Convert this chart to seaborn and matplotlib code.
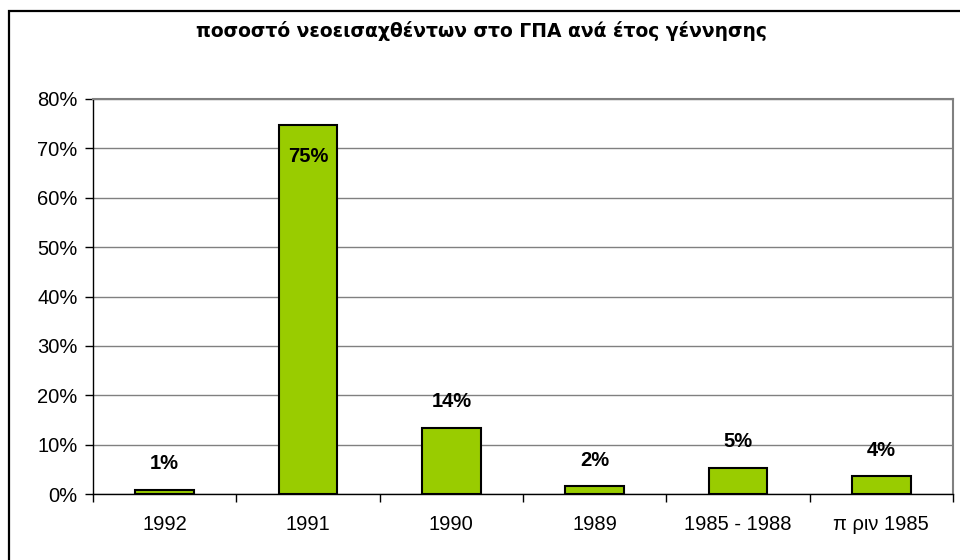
import matplotlib
matplotlib.use("Agg")
import matplotlib.pyplot as plt
import seaborn as sns
import pandas as pd
from matplotlib.patches import Rectangle
from matplotlib.ticker import FuncFormatter, FixedLocator

# -----------------------------
# DATA
# -----------------------------
categories = ["1992", "1991", "1990", "1989", "1985 - 1988", "π ριν 1985"]
values = [0.9, 74.7, 13.4, 1.6, 5.3, 3.6]          # percent
bar_labels = ["1%", "75%", "14%", "2%", "5%", "4%"]
title = "ποσοστό νεοεισαχθέντων στο ΓΠΑ ανά έτος γέννησης"

df = pd.DataFrame({"cat": categories, "val": values})

# -----------------------------
# STYLE
# -----------------------------
sns.set_theme(style="white")
plt.rcParams['font.family'] = ['Liberation Sans', 'DejaVu Sans']
plt.rcParams['text.color'] = 'black'
plt.rcParams['xtick.color'] = 'black'
plt.rcParams['ytick.color'] = 'black'

fig = plt.figure(figsize=(9.6, 5.6), dpi=100)
ax = fig.add_axes([93 / 960, 1 - 494 / 560, 860 / 960, 395 / 560])

sns.barplot(data=df, x="cat", y="val", order=categories, color="#99CC00",
            saturation=1, width=0.41, edgecolor="black", linewidth=1.5, ax=ax, zorder=3)

ax.set_ylim(0, 80)
ax.set_xlim(-0.5, len(categories) - 0.5)
ax.set_yticks(range(0, 81, 10))
ax.yaxis.set_major_formatter(FuncFormatter(lambda v, p: f"{int(v)}%"))
ax.grid(axis="y", color="#808080", linewidth=1, zorder=0)
ax.set_axisbelow(True)

# category labels centered, tick marks at the boundaries
ax.xaxis.set_major_locator(FixedLocator([i - 0.5 for i in range(len(categories) + 1)]))
ax.xaxis.set_minor_locator(FixedLocator(list(range(len(categories)))))
ax.set_xticklabels([])
ax.set_xticklabels(categories, minor=True)
ax.tick_params(axis="x", which="major", direction="out", length=6, width=1, color="black", bottom=True)
ax.tick_params(axis="x", which="minor", length=0, pad=15, labelsize=14.5)
ax.tick_params(axis="y", direction="out", length=6, width=1, color="black", left=True,
               labelsize=14.5, pad=5)
ax.set_xlabel("")
ax.set_ylabel("")

for s in ["left", "bottom"]:
    ax.spines[s].set_color("black")
    ax.spines[s].set_linewidth(1)
for s in ["top", "right"]:
    ax.spines[s].set_color("#808080")
    ax.spines[s].set_linewidth(1.5)

# value labels
for i, (v, lab) in enumerate(zip(values, bar_labels)):
    if v + 6 > 80:
        ax.annotate(lab, (i, v), xytext=(0, -31), textcoords="offset pixels",
                    ha="center", va="center", fontsize=14.5, fontweight="bold")
    else:
        ax.annotate(lab, (i, v), xytext=(0, 26), textcoords="offset pixels",
                    ha="center", va="center", fontsize=14.5, fontweight="bold")

# title and outer frame
fig.text(482 / 960, 1 - 31 / 560, title, ha="center", va="center",
         fontsize=13.5, fontweight="bold", family=["DejaVu Sans"])
fig.patches.append(Rectangle((9 / 960, -0.1), 1.2, 1.1 - 11 / 560,
                             transform=fig.transFigure, fill=False,
                             edgecolor="black", linewidth=1.6))

fig.savefig("out.png", dpi=100)
